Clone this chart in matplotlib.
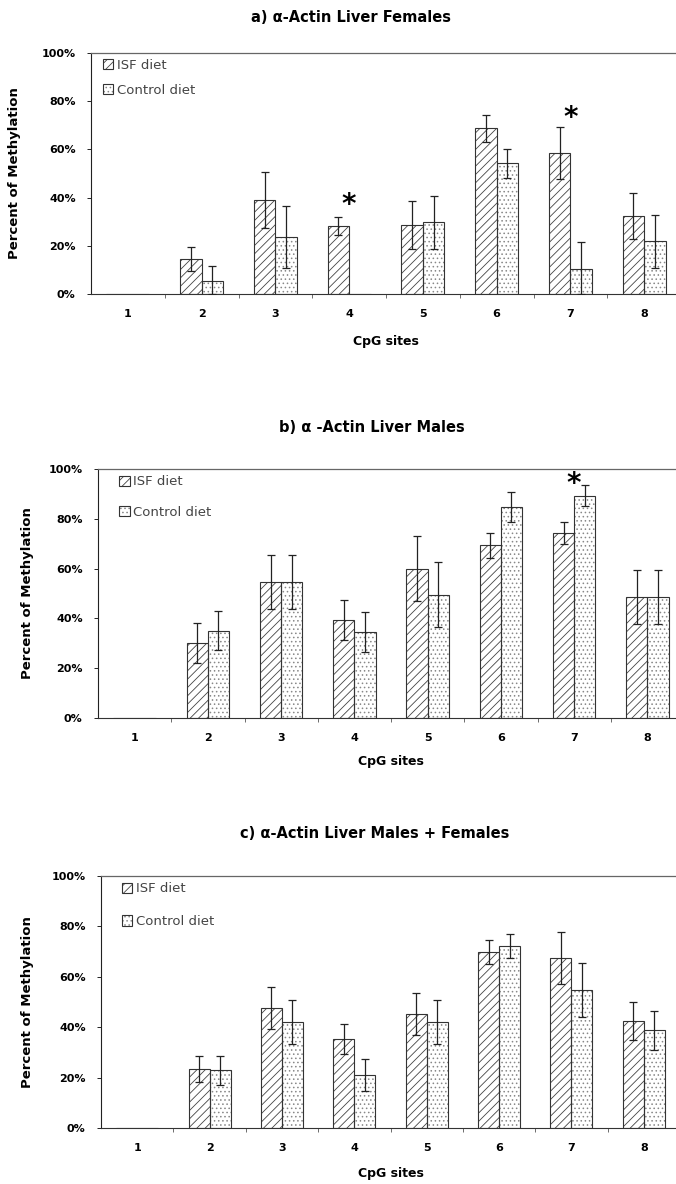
import numpy as np
import matplotlib
matplotlib.use("Agg")
import matplotlib.pyplot as plt
from matplotlib.patches import Patch
from matplotlib.ticker import PercentFormatter

plt.rcParams['font.family'] = ['DejaVu Sans']
plt.rcParams['hatch.linewidth'] = 0.6

# =============================================================================
# DATA  (percent of methylation)
# =============================================================================

SITES = [1, 2, 3, 4, 5, 6, 7, 8]
LABELS = ["ISF diet", "Control diet"]

fem_isf     = [0, 14.5, 38.9, 28.3, 28.5, 68.7, 58.4, 32.4]
fem_isf_err = [0, 5.0, 11.6, 3.7, 10.0, 5.5, 10.8, 9.7]
fem_ctl     = [0, 5.2, 23.7, 0, 29.7, 54.2, 10.5, 21.8]
fem_ctl_err = [0, 6.5, 13.0, 0, 11.0, 6.0, 11.0, 11.0]
fem_stars   = [(4, 37.0), (7, 73.0)]

male_isf     = [0, 30.0, 54.6, 39.4, 60.0, 69.4, 74.3, 48.6]
male_isf_err = [0, 8.0, 10.8, 8.0, 13.0, 5.0, 4.5, 11.0]
male_ctl     = [0, 35.0, 54.6, 34.7, 49.5, 84.9, 89.2, 48.6]
male_ctl_err = [0, 7.8, 10.8, 8.0, 13.0, 6.0, 4.2, 11.0]
male_stars   = [(7, 94.0)]

all_isf     = [0, 23.4, 47.6, 35.3, 45.3, 69.9, 67.5, 42.4]
all_isf_err = [0, 5.3, 8.5, 6.1, 8.3, 4.7, 10.4, 7.6]
all_ctl     = [0, 22.9, 41.9, 21.0, 42.1, 72.2, 54.8, 38.7]
all_ctl_err = [0, 5.8, 8.7, 6.3, 8.8, 4.8, 10.6, 7.8]
all_stars   = []

TITLES = ["a) \u03b1-Actin Liver Females",
          "b) \u03b1 -Actin Liver Males",
          "c) \u03b1-Actin Liver Males + Females"]

# =============================================================================
# LAYOUT (pixels of the 676x1184 canvas)
# =============================================================================

W, H = 676, 1184
# left, top, width, height, title_x, title_y, ylabel_x, xlabel_y, legend_x, legend_gap
PANELS = [
    (91, 53, 590, 241, 351, 17, 15, 342, 0.020, 0.9),
    (98, 469, 586, 249, 372, 428, 28, 762, 0.036, 1.35),
    (101, 876, 579, 252, 375, 833, 28, 1173, 0.036, 1.5),
]

BAR_W = 0.29
EDGE = "#333333"
ISF_HATCH = "#444444"
CTL_HATCH = "#888888"


def draw_panel(ax, isf, isf_err, ctl, ctl_err, stars):
    x = np.array(SITES, dtype=float)
    # hatch layers first, outline on top
    ax.bar(x - BAR_W / 2, isf, BAR_W, facecolor="white", edgecolor=ISF_HATCH,
           hatch="////", linewidth=0, zorder=2)
    ax.bar(x + BAR_W / 2, ctl, BAR_W, facecolor="white", edgecolor=CTL_HATCH,
           hatch="....", linewidth=0, zorder=2)
    ax.bar(x - BAR_W / 2, isf, BAR_W, fill=False, edgecolor=EDGE,
           linewidth=0.8, zorder=2.5)
    ax.bar(x + BAR_W / 2, ctl, BAR_W, fill=False, edgecolor=EDGE,
           linewidth=0.8, zorder=2.5)

    for xs, v, e in ((x - BAR_W / 2, isf, isf_err), (x + BAR_W / 2, ctl, ctl_err)):
        v = np.array(v, dtype=float)
        e = np.array(e, dtype=float)
        m = e > 0
        lower = np.minimum(e, v)
        ax.errorbar(xs[m], v[m], yerr=[lower[m], e[m]], fmt="none",
                    ecolor="#222222", elinewidth=0.9, capsize=3, capthick=0.9,
                    zorder=3)

    for sx, sy in stars:
        ax.text(sx, sy, "*", fontsize=20, fontweight="bold", ha="center",
                va="center", zorder=4)


fig = plt.figure(figsize=(W / 100, H / 100), dpi=100)

data = [
    (fem_isf, fem_isf_err, fem_ctl, fem_ctl_err, fem_stars),
    (male_isf, male_isf_err, male_ctl, male_ctl_err, male_stars),
    (all_isf, all_isf_err, all_ctl, all_ctl_err, all_stars),
]

for (left, top, width, height, tx, ty, ylx, xly, lgx, lgap), d, title in zip(PANELS, data, TITLES):
    ax = fig.add_axes([left / W, 1 - (top + height) / H, width / W, height / H])
    draw_panel(ax, *d)

    ax.set_xlim(0.5, 8.5)
    ax.set_ylim(0, 100)
    ax.set_yticks([0, 20, 40, 60, 80, 100])
    ax.yaxis.set_major_formatter(PercentFormatter(decimals=0))
    ax.set_xticks(SITES)
    ax.set_xticks(np.arange(1.5, 8.5, 1), minor=True)
    ax.tick_params(axis="x", which="major", length=0, pad=11, labelsize=8)
    ax.tick_params(axis="x", which="minor", length=3, width=0.6, color="#555555")
    ax.tick_params(axis="y", length=3, width=0.6, pad=8, labelsize=8)
    for lab in ax.get_xticklabels() + ax.get_yticklabels():
        lab.set_fontweight("bold")

    ax.spines["left"].set_color("#222222")
    ax.spines["left"].set_linewidth(0.8)
    ax.spines["bottom"].set_color("#333333")
    ax.spines["bottom"].set_linewidth(0.8)
    ax.spines["top"].set_color("#666666")
    ax.spines["top"].set_linewidth(0.9)
    ax.spines["right"].set_visible(False)

    outline = Patch(fill=False, edgecolor=EDGE, linewidth=0.8)
    handles = [(Patch(facecolor="white", edgecolor=ISF_HATCH, hatch="////", linewidth=0), outline),
               (Patch(facecolor="white", edgecolor=CTL_HATCH, hatch="....", linewidth=0), outline)]
    ax.legend(handles, LABELS, loc="upper left", bbox_to_anchor=(lgx, 0.975),
              frameon=False, fontsize=9.5, labelcolor="#444444",
              handlelength=0.8, handleheight=0.8, handletextpad=0.25,
              labelspacing=lgap, borderpad=0, borderaxespad=0)

    fig.text(tx / W, 1 - ty / H, title, ha="center", va="center",
             fontsize=10.5, fontweight="bold")
    fig.text(ylx / W, 1 - (top + height / 2) / H, "Percent of Methylation",
             rotation=90, ha="center", va="center", fontsize=9.5, fontweight="bold")
    fig.text((left + width / 2) / W, 1 - xly / H, "CpG sites", ha="center",
             va="center", fontsize=9, fontweight="bold")

fig.savefig("out.png", dpi=100)
